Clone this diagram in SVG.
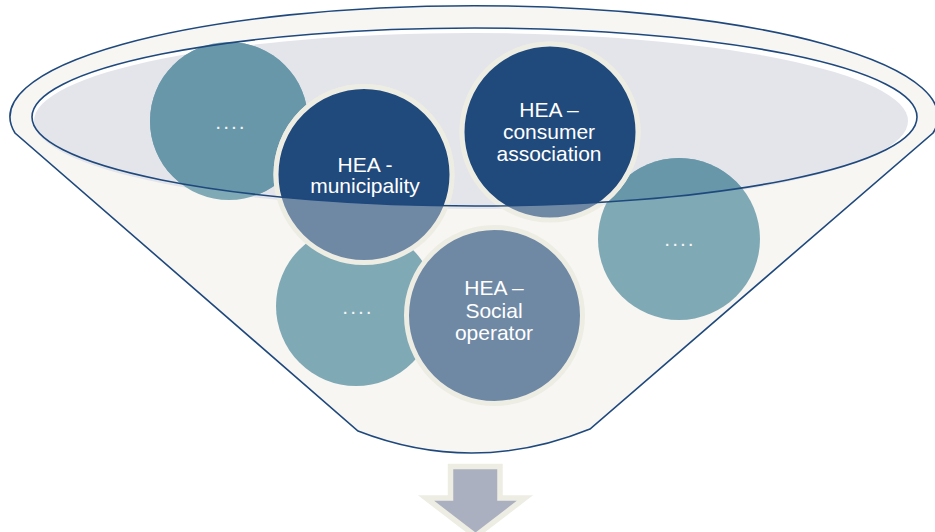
<svg xmlns="http://www.w3.org/2000/svg" width="935" height="532" viewBox="0 0 935 532">
<defs>
<style>
.navyU{fill:#214A7C;stroke:#EEEDE3;stroke-width:5}
.navyL{fill:#6F89A5;stroke:#EEEDE3;stroke-width:5}
.tealU{fill:#6897AA}
.tealL{fill:#7FA9B5}
.lbl{font-family:"Liberation Sans",Arial,sans-serif;font-size:21px;fill:#FFFFFF;text-anchor:middle}
.dots{font-family:"Liberation Sans",Arial,sans-serif;font-size:21px;fill:#F4F4F4;text-anchor:middle;letter-spacing:2px}
.edge{fill:none;stroke:#1F497D;stroke-width:1.6}
</style>
<clipPath id="mouth"><ellipse cx="474.5" cy="117" rx="442.5" ry="89"/></clipPath>
</defs>
<rect width="935" height="532" fill="#FFFFFF"/>
<g id="funnel">
<path d="M15,133 A464,111 0 1 1 933,133 L590,429 Q474,476 358,431 Z" fill="#F7F6F2" stroke="#1F497D" stroke-width="1.6"/>
<ellipse cx="474.5" cy="117" rx="442.5" ry="89" fill="#FFFFFF"/>
<ellipse cx="471" cy="121" rx="437" ry="88" fill="#E4E5EA"/>
</g>
<g id="node-dots-topleft">
<circle class="tealL" cx="229" cy="121" r="79"/>
<circle class="tealU" cx="229" cy="121" r="79" clip-path="url(#mouth)"/>
<text class="dots" x="231" y="129">....</text>
</g>
<g id="node-dots-right">
<circle class="tealL" cx="679" cy="239" r="81"/>
<circle class="tealU" cx="679" cy="239" r="81" clip-path="url(#mouth)"/>
<text class="dots" x="680" y="246">....</text>
</g>
<g id="node-dots-bottomleft">
<circle class="tealL" cx="356" cy="306" r="80"/>
<text class="dots" x="358" y="314">....</text>
</g>
<g id="node-municipality">
<circle class="navyL" cx="364" cy="174.5" r="88"/>
<circle class="navyU" cx="364" cy="174.5" r="88" clip-path="url(#mouth)"/>
<text class="lbl" x="365" y="172">HEA -</text>
<text class="lbl" x="365" y="193">municipality</text>
</g>
<g id="node-consumer">
<circle class="navyL" cx="550" cy="132" r="88"/>
<circle class="navyU" cx="550" cy="132" r="88" clip-path="url(#mouth)"/>
<text class="lbl" x="549" y="117">HEA –</text>
<text class="lbl" x="549" y="139">consumer</text>
<text class="lbl" x="549" y="161">association</text>
</g>
<g id="node-social">
<circle class="navyL" cx="494.5" cy="315.5" r="88"/>
<text class="lbl" x="494" y="295">HEA –</text>
<text class="lbl" x="494" y="318">Social</text>
<text class="lbl" x="494" y="340">operator</text>
</g>
<g id="connectors">
<ellipse class="edge" cx="474.5" cy="117" rx="442.5" ry="89"/>
<polygon points="450.5,466.5 500,466.5 500,498 525,498 475.5,536 426,498 450.5,498" fill="#AAB0BF" stroke="#EEEDE3" stroke-width="5.5" stroke-linejoin="miter"/>
</g>
</svg>
